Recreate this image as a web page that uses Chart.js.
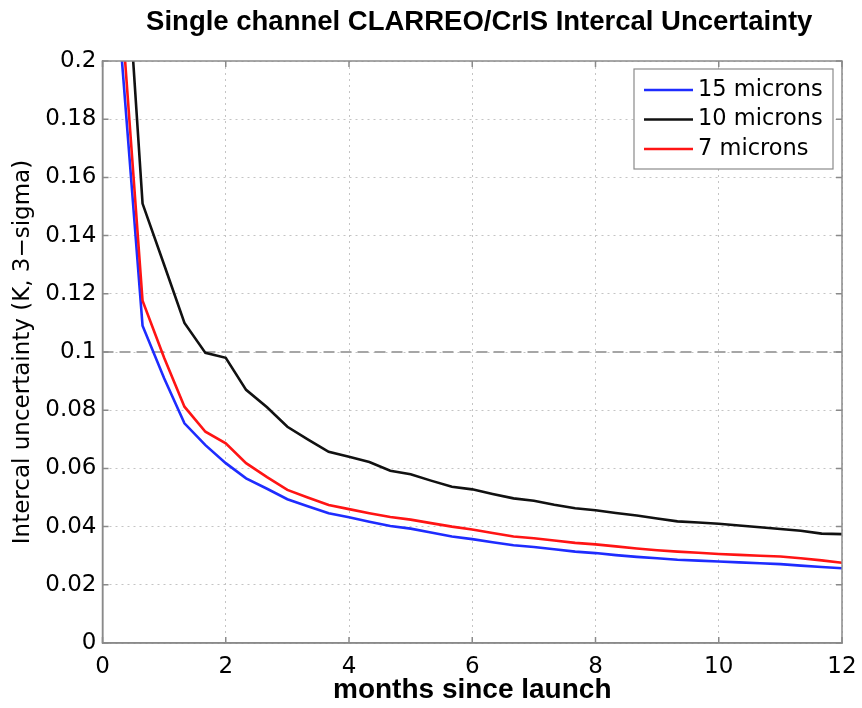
<!DOCTYPE html>
<html>
<head>
<meta charset="utf-8">
<script src="https://cdn.jsdelivr.net/npm/chart.js@4.4.1/dist/chart.umd.min.js"></script>
<style>
  html, body { margin: 0; padding: 0; background: #fff; }
  #wrap { width: 862px; height: 708px; }
</style>
</head>
<body>
<div id="wrap"><canvas id="c" width="862" height="708"></canvas></div>
<script>
// months since launch, shared by the three curves
const months = [0.25, 0.65, 1, 1.33, 1.67, 2, 2.33, 2.67, 3, 3.33, 3.67, 4, 4.33, 4.67, 5, 5.33,
  5.67, 6, 6.33, 6.67, 7, 7.33, 7.67, 8, 8.33, 8.67, 9, 9.33, 9.67, 10, 10.33, 10.67, 11, 11.33, 11.67, 12];

const micron15 = [0.218, 0.109, 0.091, 0.0755, 0.068, 0.0618, 0.0566, 0.053, 0.0494, 0.047, 0.0446, 0.0432,
  0.0417, 0.0402, 0.0393, 0.038, 0.0366, 0.0357, 0.0346, 0.0336, 0.033, 0.0322, 0.0314, 0.0309,
  0.0302, 0.0296, 0.0291, 0.0286, 0.0283, 0.028, 0.0277, 0.0274, 0.0271, 0.0266, 0.0261, 0.0257];

const micron10 = [0.28, 0.151, 0.13, 0.11, 0.0997, 0.098, 0.087, 0.081, 0.0743, 0.07, 0.0657, 0.064,
  0.0622, 0.0592, 0.058, 0.0558, 0.0537, 0.0528, 0.0512, 0.0497, 0.0489, 0.0475, 0.0463, 0.0456,
  0.0447, 0.0438, 0.0428, 0.0418, 0.0414, 0.041, 0.0404, 0.0398, 0.0392, 0.0386, 0.0376, 0.0374];

const micron7 = [0.234, 0.1176, 0.098, 0.0812, 0.0726, 0.0686, 0.0618, 0.057, 0.0526, 0.05, 0.0474, 0.046,
  0.0446, 0.0433, 0.0424, 0.0412, 0.04, 0.039, 0.0378, 0.0366, 0.036, 0.0352, 0.0344, 0.0339,
  0.0332, 0.0325, 0.0319, 0.0314, 0.031, 0.0306, 0.0303, 0.03, 0.0297, 0.0291, 0.0284, 0.0276];

// 0.1 K requirement line
const reqMonths = [0, 12];
const reqLevel = [0.1, 0.1];

const titleText = "Single channel CLARREO/CrIS Intercal Uncertainty";
const xTitle = "months since launch";
const yTitle = "Intercal uncertainty (K, 3\u2212sigma)";

const tickFont = { family: "DejaVu Sans", size: 23 };
const boldFont = "bold 27.5px 'Liberation Sans', Arial, sans-serif";
const frameColor = "#8a8a8a";
const gridColor = "#c4c4c4";

function pts(xs, ys) {
  return xs.map((x, i) => ({ x: x, y: ys[i] }));
}

// title, box around the plot and matlab style inward ticks
const framePlugin = {
  id: "frame",
  afterDatasetsDraw(chart) {
    const ctx = chart.ctx, a = chart.chartArea;
    const xs = chart.scales.x, ys = chart.scales.y;
    ctx.save();
    ctx.strokeStyle = frameColor;
    ctx.lineWidth = 1.5;
    ctx.strokeRect(a.left, a.top, a.right - a.left, a.bottom - a.top);
    ctx.beginPath();
    xs.ticks.forEach(t => {
      const px = xs.getPixelForValue(t.value);
      ctx.moveTo(px, a.bottom); ctx.lineTo(px, a.bottom - 6);
      ctx.moveTo(px, a.top); ctx.lineTo(px, a.top + 6);
    });
    ys.ticks.forEach(t => {
      const py = ys.getPixelForValue(t.value);
      ctx.moveTo(a.left, py); ctx.lineTo(a.left + 6, py);
      ctx.moveTo(a.right, py); ctx.lineTo(a.right - 6, py);
    });
    ctx.stroke();

    ctx.fillStyle = "#000";
    ctx.font = boldFont;
    ctx.textAlign = "center";
    ctx.textBaseline = "middle";
    ctx.fillText(titleText, (a.left + a.right) / 2 + 7, 22);
    ctx.restore();
  },
  afterDraw(chart) {
    // legend box in the upper right corner of the plot
    const ctx = chart.ctx, a = chart.chartArea;
    const items = chart.data.datasets.filter(d => d.inLegend);
    const w = 199, rowH = 29.5, h = 100;
    const left = a.right - 9 - w, top = a.top + 8;
    ctx.save();
    ctx.fillStyle = "#fff";
    ctx.fillRect(left, top, w, h);
    ctx.strokeStyle = frameColor;
    ctx.lineWidth = 1.2;
    ctx.strokeRect(left, top, w, h);
    ctx.font = "22.5px 'DejaVu Sans'";
    ctx.textBaseline = "middle";
    ctx.textAlign = "left";
    items.forEach((d, i) => {
      const cy = top + 21 + i * rowH;
      ctx.strokeStyle = d.borderColor;
      ctx.lineWidth = 2.5;
      ctx.beginPath();
      ctx.moveTo(left + 10, cy);
      ctx.lineTo(left + 59, cy);
      ctx.stroke();
      ctx.fillStyle = "#000";
      ctx.fillText(d.label, left + 64, cy);
    });
    ctx.restore();
  }
};

new Chart(document.getElementById("c"), {
  type: "line",
  data: {
    datasets: [
      { label: "15 microns", inLegend: true, data: pts(months, micron15), borderColor: "#1e2cff", borderWidth: 2.6, pointRadius: 0, order: 3 },
      { label: "10 microns", inLegend: true, data: pts(months, micron10), borderColor: "#111111", borderWidth: 2.6, pointRadius: 0, order: 2 },
      { label: "7 microns", inLegend: true, data: pts(months, micron7), borderColor: "#ff1414", borderWidth: 2.6, pointRadius: 0, order: 1 },
      { label: "requirement", inLegend: false, data: pts(reqMonths, reqLevel), borderColor: "#a6a6a6", borderWidth: 2, borderDash: [11, 6], pointRadius: 0, order: 10 }
    ]
  },
  options: {
    responsive: false,
    devicePixelRatio: 1,
    animation: false,
    layout: { padding: { left: 0, right: 20, top: 61, bottom: 0 } },
    plugins: {
      legend: { display: false },
      title: { display: false },
      tooltip: { enabled: false }
    },
    scales: {
      x: {
        type: "linear",
        min: 0,
        max: 12,
        afterFit(s) { s.height = 65; s.paddingRight = 0; },
        ticks: { stepSize: 2, font: tickFont, color: "#000", padding: 10, maxRotation: 0 },
        grid: { color: gridColor, drawTicks: false },
        border: { color: frameColor, width: 1.5, dash: [2, 4] },
        title: { display: true, text: xTitle, color: "#000", font: { family: "Liberation Sans", size: 28, weight: "bold" }, padding: { top: 0, bottom: 1 } }
      },
      y: {
        min: 0,
        max: 0.2,
        afterFit(s) { s.width = 102.5; },
        ticks: {
          stepSize: 0.02,
          font: tickFont,
          color: "#000",
          padding: 6,
          callback: v => parseFloat(v.toFixed(2)).toString()
        },
        grid: { color: gridColor, drawTicks: false },
        border: { color: frameColor, width: 1.5, dash: [2, 4] },
        title: { display: true, text: yTitle, color: "#000", font: { family: "DejaVu Sans", size: 23 }, padding: { top: 9, bottom: 0 } }
      }
    }
  },
  plugins: [framePlugin]
});
</script>
</body>
</html>
